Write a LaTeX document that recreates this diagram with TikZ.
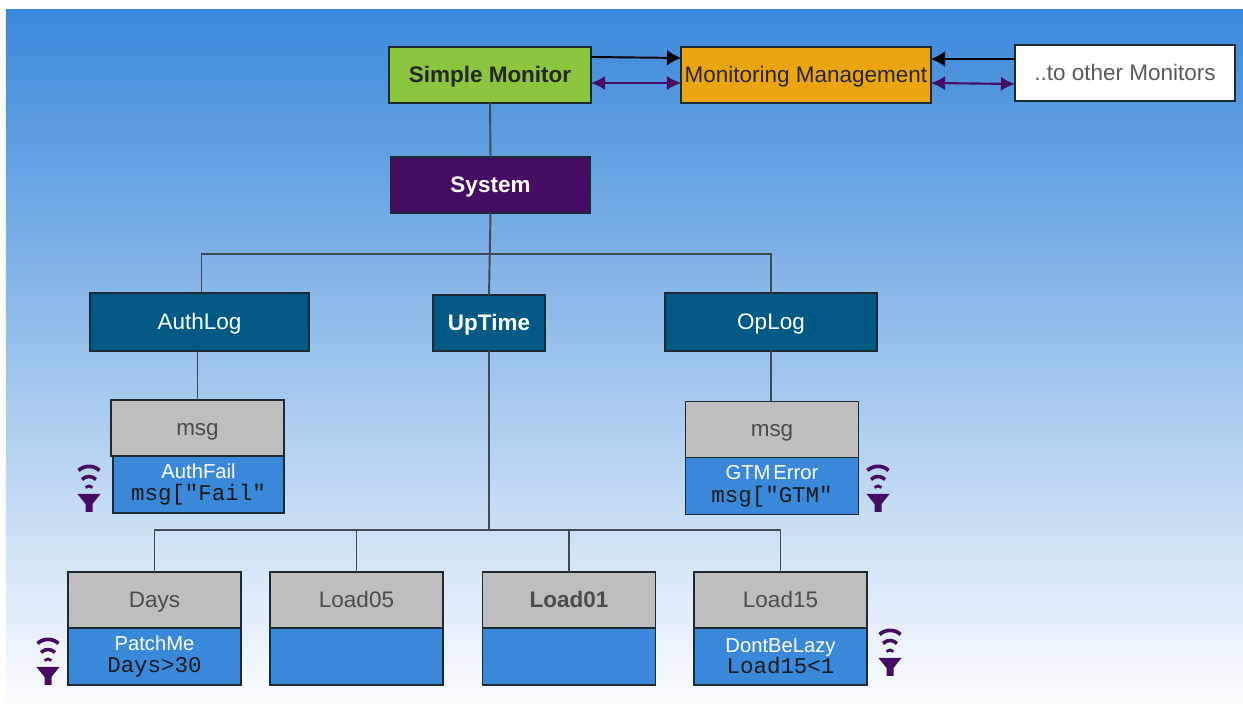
\documentclass[tikz,border=0pt]{standalone}
\usepackage{fontspec}
\setmainfont{Liberation Sans}
\setmonofont{Liberation Mono}
\usepackage{xcolor}
\usetikzlibrary{positioning}
\usetikzlibrary{arrows.meta}
\definecolor{skytop}{HTML}{3A88DA}
\definecolor{leafgreen}{HTML}{8CC63E}
\definecolor{amber}{HTML}{EAA510}
\definecolor{plum}{HTML}{460B62}
\definecolor{deepteal}{HTML}{005A85}
\definecolor{fieldgrey}{HTML}{BEBEBE}
\definecolor{rulefill}{HTML}{3A88D9}
\definecolor{edgeink}{HTML}{1E2A33}
\newcommand{\rulecode}[1]{{\color{black!90}\fontsize{12.8}{13}\selectfont\ttfamily #1}}

\begin{document}
\begin{tikzpicture}[
  font=\fontsize{12.8}{15}\selectfont,
  box/.style={draw=edgeink, line width=0.8pt, align=center, inner sep=0pt, outer sep=0pt, minimum height=1.12cm},
  oneline/.style={box, text height=9.2pt, text depth=1pt},
  topbox/.style={oneline, minimum width=#1, fill=deepteal, text=white},
  fieldbox/.style={oneline, minimum width=3.46cm, fill=fieldgrey, text=black!70},
  rulebox/.style={box, minimum width=3.46cm, minimum height=1.14cm, fill=rulefill, text=white, font=\fontsize{11.5}{14}\selectfont, below=0pt of #1},
  link/.style={draw=edgeink!85!white, line width=1.1pt},
  arrow/.style={-{Latex[length=8pt,width=9pt]}, line width=1.1pt, black},
  bothway/.style={{Latex[length=8pt,width=8pt]}-{Latex[length=8pt,width=8pt]}, line width=1.2pt, plum},
  alarm/.pic={
    \fill[plum] (-0.23,0) -- (0.23,0) -- (0.07,-0.2) -- (0.07,-0.36) -- (-0.07,-0.36) -- (-0.07,-0.2) -- cycle;
    \draw[plum, line width=2.1pt] (-0.21,0.47) .. controls (-0.1,0.58) and (0.1,0.58) .. (0.21,0.47);
    \draw[plum, line width=2pt] (-0.14,0.29) .. controls (-0.06,0.37) and (0.06,0.37) .. (0.14,0.29);
    \draw[plum, line width=1.6pt] (-0.07,0.13) .. controls (-0.03,0.17) and (0.03,0.17) .. (0.07,0.13);
  }
]

\useasboundingbox (0,0) rectangle (24.86,14.3);

% Backdrop
\shade[top color=skytop, bottom color=white] (0.12,0) rectangle (24.86,14.1);

% Top row
\node[oneline, minimum width=4.04cm, fill=leafgreen, text=black!85] (nSimple) at (9.80,12.80) {\textbf{Simple Monitor}};
\node[oneline, minimum width=5.00cm, fill=amber, text=black!85] (nManage) at (16.12,12.80) {Monitoring Management};
\node[oneline, minimum width=4.40cm, fill=white, text=black!65] (nOther) at (22.50,12.84) {..to other Monitors};

% Second and third levels
\node[oneline, minimum width=3.98cm, fill=plum, text=white] (nSystem) at (9.81,10.60) {\textbf{System}};
\node[topbox=4.38cm, minimum height=1.16cm] (nAuthLog) at (3.99,7.86) {AuthLog};
\node[topbox=2.24cm] (nUpTime) at (9.78,7.84) {\textbf{UpTime}};
\node[topbox=4.24cm, minimum height=1.16cm] (nOpLog) at (15.42,7.86) {OpLog};

% Log fields
\node[fieldbox] (nMsgA) at (3.95,5.74) {msg};
\node[rulebox=nMsgA, minimum width=3.42cm, xshift=0.02cm] (nFail) {AuthFail\\[-1pt]\rulecode{msg["Fail"}};
\node[fieldbox] (nMsgB) at (15.44,5.71) {msg};
\node[rulebox=nMsgB] (nGtm) {GTM\kern-1.5pt{} Error\\[-1pt]\rulecode{msg["GTM"}};

% Uptime fields
\node[fieldbox] (nDays) at (3.09,2.30) {Days};
\node[rulebox=nDays] (nPatch) {PatchMe\\[-2pt]\rulecode{Days>30}};
\node[fieldbox] (nLoadA) at (7.13,2.30) {Load05};
\node[rulebox=nLoadA] (nBlankA) {};
\node[fieldbox] (nLoadB) at (11.38,2.30) {\textbf{Load01}};
\node[rulebox=nLoadB] (nBlankB) {};
\node[fieldbox] (nLoadC) at (15.61,2.30) {Load15};
\node[rulebox=nLoadC] (nLazy) {DontBeLazy\\[-2pt]\rulecode{Load15<1}};

% Alarm marks
\pic at (1.78,4.42) {alarm};
\pic at (17.56,4.42) {alarm};
\pic at (0.96,0.96) {alarm};
\pic at (17.80,1.14) {alarm};

% Arrows between monitors
\draw[arrow] ([yshift=0.36cm]nSimple.east) -- ([yshift=0.34cm]nManage.west);
\draw[bothway] ([yshift=-0.16cm]nSimple.east) -- ([yshift=-0.16cm]nManage.west);
\draw[arrow] ([yshift=0.28cm]nOther.west) -- ([yshift=0.32cm]nManage.east);
\draw[bothway] ([yshift=-0.16cm]nManage.east) -- ([yshift=-0.22cm]nOther.west);

% Tree
\coordinate (busTop) at (9.81,9.22);
\coordinate (busLow) at (9.78,3.70);
\draw[link] (nSimple.south) -- (nSystem.north);
\draw[link] (nSystem.south) -- (nUpTime.north);
\draw[link] ([xshift=0.04cm]nAuthLog.north) |- (busTop) -| (nOpLog.north);
\draw[link] (nMsgA.north) -- (nMsgA.north |- nAuthLog.south);
\draw[link] (nOpLog.south) -- (nOpLog.south |- nMsgB.north);
\draw[link] (nUpTime.south) -- (busLow);
\draw[link] (nDays.north) |- (busLow) -| (nLoadC.north);
\draw[link] (nLoadA.north) -- (nLoadA.north |- busLow);
\draw[link] (nLoadB.north) -- (nLoadB.north |- busLow);

\end{tikzpicture}
\end{document}
